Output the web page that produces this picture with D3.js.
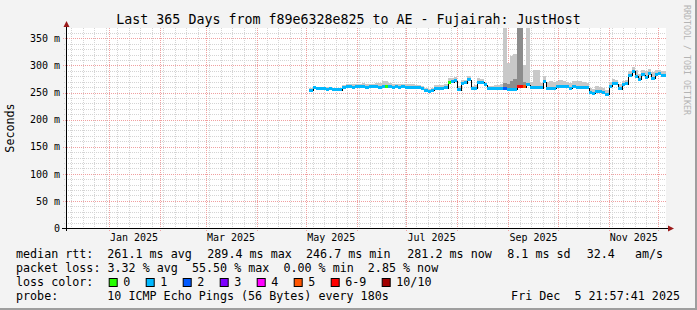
<!DOCTYPE html>
<html><head><meta charset="utf-8">
<script src="https://cdn.jsdelivr.net/npm/d3@7"></script>
<style>html,body{margin:0;padding:0;background:#f3f3f3;} svg{display:block;} text{white-space:pre;}</style>
</head><body><svg id="c" width="697" height="310"></svg>
<script>
// ---------- data ----------
const title = "Last 365 Days from f89e6328e825 to AE - Fujairah: JustHost";
const rangeStart = "2024-12-05T21:57:41Z";
const rangeEnd = "2025-12-05T21:57:41Z";
const firstBin = "2025-05-03T00:00:00Z";
const binDays = 2;
const yMax = 369.2;
const yTicks = [0, 50, 100, 150, 200, 250, 300, 350];
const yLabels = ["0", "50 m", "100 m", "150 m", "200 m", "250 m", "300 m", "350 m"];

// median rtt (ms) per 2-day bin
const median = [254,259,258,258,257,256,257,256,256,255,
 260,261,261,260,261,261,261,260,261,261,
 261,260,261,261,261,260,261,260,261,260,
 260,260,259,259,257,254,252,254,258,258,
 258,259,269,270,272,255,267,268,274,257,
 258,269,269,264,258,257,257,257,257,257,
 256,256,256,261,261,261,264,260,259,260,
 259,270,258,258,258,261,262,261,261,258,
 261,260,260,260,259,250,249,252,252,250,
 247,262,267,266,257,265,266,282,289,280,
 275,283,278,285,276,284,285,281.2];
// loss colour class per bin (index into lossLabels)
const lossIdx = [1,1,1,1,1,1,1,1,1,1,
 1,1,1,1,1,1,1,1,1,1,
 1,1,1,0,1,1,1,1,1,1,
 1,1,1,1,1,1,1,1,1,1,
 1,1,0,1,1,1,1,1,1,1,
 1,1,1,1,1,1,1,1,1,2,
 1,1,1,6,6,5,1,1,1,1,
 1,1,1,1,1,1,1,1,1,1,
 1,1,1,1,1,1,1,1,1,1,
 1,1,1,1,1,1,1,1,1,1,
 1,1,1,1,1,1,1,1];
// upper edge of smoke (ms)
const smokeHi = [258,262,261,261,260,260,260,259,259,258,
 264,266,266,265,266,266,267,265,266,266,
 267,268,272,271,267,266,266,265,266,266,
 266,265,264,264,262,258,256,258,264,264,
 264,266,276,276,278,262,273,274,280,262,
 264,276,275,268,263,263,264,264,265,375,
 305,318,322,375,375,300,375,270,292,292,
 268,280,270,272,270,272,274,272,270,268,
 272,272,271,270,268,258,256,262,261,258,
 255,270,275,273,266,272,274,290,298,292,
 285,292,290,294,288,292,292,290];
const darkSmokeBins = [59, 60, 61, 62, 63, 64, 65];
const darkSmokeTop = [268, 266, 272, 275, 375, 375, 270];

const lossLabels = ["0","1","2","3","4","5","6-9","10/10"];
const lossColors = ["#26ff00","#00b8ff","#0059ff","#7e00ff","#ff00ff","#ff5500","#ff0000","#a10000"];

const statRtt = ["median rtt:", "261.1 ms avg", "289.4 ms max", "246.7 ms min", "281.2 ms now", "8.1 ms sd", "32.4", "am/s"];
const statLoss = "packet loss: 3.32 % avg  55.50 % max  0.00 % min  2.85 % now";
const probeText = ["probe:", "10 ICMP Echo Pings (56 Bytes) every 180s"];
const stampText = "Fri Dec  5 21:57:41 2025";

// ---------- drawing ----------
const W = 697, H = 310;
const L = 66, R = 666, T = 28, B = 228;
const mono = "'DejaVu Sans Mono', monospace";
const svg = d3.select("#c");
const t0 = new Date(rangeStart), t1 = new Date(rangeEnd);
const x = d3.scaleUtc().domain([t0, t1]).range([L, R]);
const y = d3.scaleLinear().domain([0, yMax]).range([B, T]);
const b0 = new Date(firstBin);
const binStart = i => d3.utcDay.offset(b0, i * binDays);
const binEnd = i => i === median.length - 1 ? t1 : d3.utcDay.offset(b0, (i + 1) * binDays);

svg.append("rect").attr("width", W).attr("height", H).attr("fill", "#f3f3f3");
svg.append("rect").attr("x", W - 2).attr("y", 0).attr("width", 2).attr("height", H).attr("fill", "#9e9e9e");
svg.append("rect").attr("x", 0).attr("y", H - 2).attr("width", W).attr("height", 2).attr("fill", "#9e9e9e");
svg.append("rect").attr("x", L).attr("y", T).attr("width", R - L).attr("height", B - T).attr("fill", "#ffffff");

svg.append("defs").append("clipPath").attr("id", "clip")
  .append("rect").attr("x", L).attr("y", T).attr("width", R - L).attr("height", B - T);

// grid
const grid = svg.append("g").attr("shape-rendering", "crispEdges");
const months = d3.utcMonth.range(t0, t1);
const weeks = d3.utcMonday.range(t0, t1);
const minorY = d3.range(10, yMax, 10).filter(v => v % 50 !== 0);
const minorCol = "#d4d4d4", majorCol = "#f0a0a0";
grid.selectAll(".vx").data(weeks).join("line")
  .attr("x1", d => Math.round(x(d)) + 0.5).attr("x2", d => Math.round(x(d)) + 0.5)
  .attr("y1", T).attr("y2", B + 2).attr("stroke", minorCol).attr("stroke-dasharray", "1,1");
grid.selectAll(".hy").data(minorY).join("line")
  .attr("x1", L - 2).attr("x2", R).attr("y1", d => Math.round(y(d)) + 0.5).attr("y2", d => Math.round(y(d)) + 0.5)
  .attr("stroke", minorCol).attr("stroke-dasharray", "1,1");
grid.selectAll(".mx").data(months).join("line")
  .attr("x1", d => Math.round(x(d)) + 0.5).attr("x2", d => Math.round(x(d)) + 0.5)
  .attr("y1", T).attr("y2", B + 3).attr("stroke", majorCol).attr("stroke-dasharray", "1,1");
grid.selectAll(".my").data(yTicks.filter(v => v > 0)).join("line")
  .attr("x1", L - 3).attr("x2", R).attr("y1", d => Math.round(y(d)) + 0.5).attr("y2", d => Math.round(y(d)) + 0.5)
  .attr("stroke", majorCol).attr("stroke-dasharray", "1,1");

// smoke
const plot = svg.append("g").attr("clip-path", "url(#clip)").attr("shape-rendering", "crispEdges");
plot.selectAll(".smoke").data(median).join("rect")
  .attr("x", (d, i) => x(binStart(i))).attr("width", (d, i) => x(binEnd(i)) - x(binStart(i)))
  .attr("y", (d, i) => y(smokeHi[i])).attr("height", (d, i) => Math.max(0, y(d) - y(smokeHi[i])))
  .attr("fill", "#c8c8c8");
plot.selectAll(".dsmoke").data(darkSmokeBins).join("rect")
  .attr("x", d => x(binStart(d))).attr("width", d => x(binEnd(d)) - x(binStart(d)))
  .attr("y", (d, k) => y(darkSmokeTop[k])).attr("height", (d, k) => Math.max(0, y(median[d]) - y(darkSmokeTop[k])))
  .attr("fill", "#8c8c8c");

// median black step line
const pts = median.map((v, i) => [binStart(i), v]);
pts.push([t1, median[median.length - 1]]);
plot.append("path").datum(pts)
  .attr("d", d3.line().x(d => Math.round(x(d[0]))).y(d => Math.round(y(d[1])) + 0.5).curve(d3.curveStepAfter))
  .attr("fill", "none").attr("stroke", "#000").attr("stroke-width", 1);

// coloured loss bands
plot.selectAll(".band").data(median).join("rect")
  .attr("x", (d, i) => x(binStart(i))).attr("width", (d, i) => x(binEnd(i)) - x(binStart(i)))
  .attr("y", d => y(d) - 1.5).attr("height", 3)
  .attr("fill", (d, i) => lossColors[lossIdx[i]]);

// axes
const ay = svg.append("g").attr("transform", `translate(${L},0)`)
  .call(d3.axisLeft(y).tickValues(yTicks).tickFormat((d, i) => yLabels[i]).tickSize(0).tickPadding(6));
ay.select(".domain").remove();
ay.selectAll("text").attr("font-family", mono).attr("font-size", "10px").attr("fill", "#000");

const labelMonths = d3.utcMonth.every(2).range(new Date("2025-01-01T00:00:00Z"), t1);
const ax = svg.append("g").attr("transform", `translate(0,${B})`)
  .call(d3.axisBottom(x).tickValues(labelMonths.map(m => d3.utcDay.offset(m, 15)))
    .tickFormat(d => d3.utcFormat("%b %Y")(d3.utcDay.offset(d, -15))).tickSize(0).tickPadding(6));
ax.select(".domain").remove();
ax.selectAll("text").attr("font-family", mono).attr("font-size", "10px").attr("fill", "#000");

svg.append("line").attr("x1", L - 4).attr("x2", R + 3).attr("y1", B + 0.5).attr("y2", B + 0.5)
  .attr("stroke", "#000").attr("shape-rendering", "crispEdges");
svg.append("line").attr("x1", L + 0.5).attr("x2", L + 0.5).attr("y1", B + 3).attr("y2", T - 3)
  .attr("stroke", "#000").attr("shape-rendering", "crispEdges");
svg.append("path").attr("d", `M${L - 2.5},${T - 1} L${L + 3.5},${T - 1} L${L + 0.5},${T - 7} Z`).attr("fill", "#9b1a1a");
svg.append("path").attr("d", `M${R + 2},${B - 2.5} L${R + 2},${B + 3.5} L${R + 8},${B + 0.5} Z`).attr("fill", "#9b1a1a");

// texts
svg.append("text").attr("x", W / 2).attr("y", 24).attr("text-anchor", "middle")
  .attr("font-family", mono).attr("font-size", "13.3px").attr("fill", "#000").text(title);
svg.append("text").attr("transform", `translate(14,${(T + B) / 2}) rotate(-90)`).attr("text-anchor", "middle")
  .attr("font-family", mono).attr("font-size", "11.7px").attr("fill", "#000").text("Seconds");
svg.append("text").attr("transform", `translate(684,5) rotate(90)`).attr("text-anchor", "start")
  .attr("font-family", mono).attr("font-size", "8.3px").attr("fill", "#b4b4b4").text("RRDTOOL / TOBI OETIKER");

const leg = svg.append("g").attr("font-family", mono).attr("font-size", "11.7px").attr("fill", "#000");
const addText = (xx, yy, s) => leg.append("text").attr("x", xx).attr("y", yy)
  .attr("xml:space", "preserve").style("white-space", "pre").text(s);
const rttX = [16, 107.3, 207.3, 306, 407.3, 507.3, 586.7, 635];
statRtt.forEach((s, i) => addText(rttX[i], 258.3, s));
addText(16, 272, statLoss);
addText(16, 286, "loss color:");
const boxX = [108.7, 145.7, 182.7, 219.7, 256.7, 293.7, 330.7, 381.7];
lossLabels.forEach((lab, i) => {
  leg.append("rect").attr("x", boxX[i] + 0.5).attr("y", 278.5).attr("width", 8).attr("height", 8)
    .attr("fill", lossColors[i]).attr("stroke", "#000").attr("stroke-width", 1);
  addText(boxX[i] + 14.6, 286, lab);
});
addText(16, 299.7, probeText[0]);
addText(107.3, 299.7, probeText[1]);
addText(680, 299.7, stampText).attr("text-anchor", "end");
</script></body></html>
